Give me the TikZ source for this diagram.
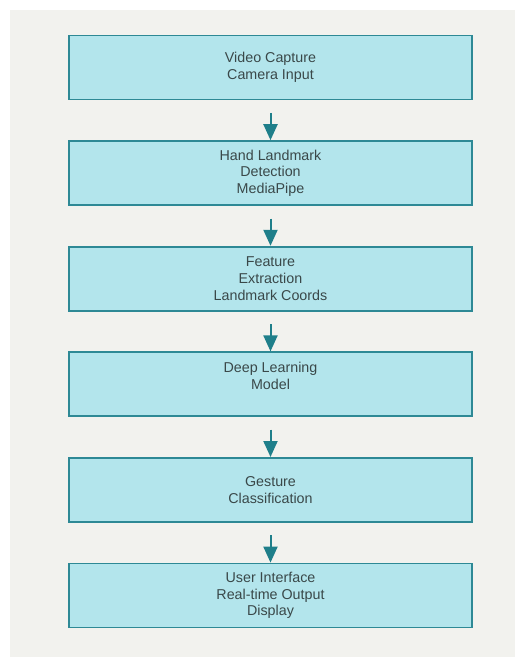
\documentclass[tikz,border=0pt]{standalone}
\usepackage{fontspec}
\setmainfont{Liberation Sans}
\usetikzlibrary{positioning,arrows.meta}

\definecolor{bggray}{HTML}{F2F2EE}
\definecolor{boxfill}{HTML}{B3E5EC}
\definecolor{boxline}{HTML}{2E8995}
\definecolor{arrowteal}{HTML}{1F7F8A}
\definecolor{textgray}{HTML}{3A4849}

\begin{document}
\begin{tikzpicture}[x=1pt,y=-1pt,node distance=105.6pt,on grid,
   stage/.style={draw=boxline,line width=1.8pt,fill=boxfill,
      minimum width=403pt,minimum height=64pt,inner sep=0pt,
      align=center,text=textgray,font=\fontsize{14.3}{16.7}\selectfont},
   flow/.style={-{Triangle[width=14pt,length=16pt]},color=arrowteal,
      line width=2pt,shorten <=12.5pt}]
   \useasboundingbox (0,0) rectangle (515,657);
   \fill[bggray] (10,10) rectangle (515,657);

   \node[stage] (capture)  at (270.5,67.5) {Video Capture\\Camera Input};
   \node[stage] (landmark) [below=of capture]  {Hand Landmark\\Detection\\MediaPipe};
   \node[stage] (feature)  [below=of landmark] {Feature\\Extraction\\Landmark Coords};
   \node[stage] (model)    [below=of feature]  {Deep Learning\\Model\\~};
   \node[stage] (classify) [below=of model]    {Gesture\\Classification};
   \node[stage] (output)   [below=of classify] {User Interface\\Real-time Output\\Display};

   \path[flow]
   (capture)  edge (landmark)
   (landmark) edge (feature)
   (feature)  edge (model)
   (model)    edge (classify)
   (classify) edge (output);
\end{tikzpicture}
\end{document}
